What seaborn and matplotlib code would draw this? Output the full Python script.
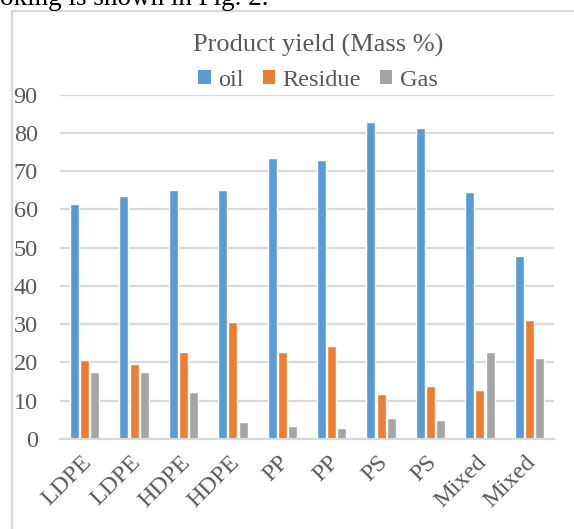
import numpy as np
import pandas as pd
import matplotlib
matplotlib.use("Agg")
import matplotlib.pyplot as plt
import matplotlib.transforms as mtransforms
import seaborn as sns
from matplotlib.patches import Rectangle, Patch

categories = ["LDPE", "LDPE", "HDPE", "HDPE", "PP", "PP", "PS", "PS", "Mixed", "Mixed"]
oil = [61.4, 63.5, 65.1, 65.1, 73.5, 72.9, 82.9, 81.3, 64.5, 47.8]
residue = [20.6, 19.6, 22.7, 30.5, 22.7, 24.3, 11.7, 13.8, 12.8, 31.0]
gas = [17.5, 17.5, 12.2, 4.4, 3.3, 2.8, 5.4, 4.9, 22.7, 21.1]
series_names = ["oil", "Residue", "Gas"]
yticks = [0, 10, 20, 30, 40, 50, 60, 70, 80, 90]

colors = ["#5B9BD5", "#ED7D31", "#A5A5A5"]
txt = "#595959"
grid = "#D9D9D9"

rows = []
for i in range(len(categories)):
    for name, vals in zip(series_names, [oil, residue, gas]):
        rows.append({"pos": i, "series": name, "value": vals[i]})
df = pd.DataFrame(rows)

sns.set_theme(style="white")
plt.rcParams["font.family"] = ["Liberation Serif", "DejaVu Serif"]

W, H = 574, 529
fig = plt.figure(figsize=(W / 100, H / 100), dpi=100)
ax = fig.add_axes([60 / W, 1 - 439 / H, (554 - 60) / W, (439 - 94.7) / H])

sns.barplot(data=df, x="pos", y="value", hue="series", hue_order=series_names,
            palette=colors, width=0.62, gap=0.12, ax=ax, legend=False,
            saturation=1, errorbar=None)

ax.set_ylim(0, 90)
ax.set_xlim(-0.5, len(categories) - 0.5)
ax.set_yticks(yticks)
ax.set_yticklabels([str(t) for t in yticks], fontsize=17.5, color=txt)
ax.set_xticks(range(len(categories)))
ax.set_xticklabels(categories, rotation=45, ha="right", va="top",
                   rotation_mode="anchor", fontsize=17.5, color=txt)
ax.tick_params(axis="y", length=0, pad=16)
ax.tick_params(axis="x", length=0, pad=9)
offset = mtransforms.ScaledTranslation(-4 / 100, 0, fig.dpi_scale_trans)
for lab in ax.get_xticklabels():
    lab.set_transform(lab.get_transform() + offset)
ax.set_xlabel("")
ax.set_ylabel("")
for s in ["top", "right", "left"]:
    ax.spines[s].set_visible(False)
ax.spines["bottom"].set_color(grid)
ax.spines["bottom"].set_linewidth(1.6)
ax.yaxis.grid(True, color=grid, linewidth=1.6)
ax.set_axisbelow(True)

# chart frame
fig.patches.append(Rectangle((11.5 / W, -0.2), 1.2, 1 - 11.5 / H + 0.2,
                             transform=fig.transFigure, fill=False,
                             edgecolor=grid, linewidth=1.6, clip_on=False))

fig.text(318 / W, 1 - 45 / H, "Product yield (Mass %)", ha="center", va="center",
         fontsize=19, color=txt)

handles = [Patch(facecolor=c, edgecolor="none", label=n) for c, n in zip(colors, series_names)]
fig.legend(handles=handles, loc="center", bbox_to_anchor=(318 / W, 1 - 80 / H),
           ncol=3, frameon=False, fontsize=17.5, handlelength=0.5, handleheight=0.5,
           handletextpad=0.3, columnspacing=0.8, labelcolor=txt)

fig.text(0, 1 - 5 / H, "oking is shown in Fig. 2.", ha="left", va="baseline",
         fontsize=19.5, color="black")

fig.savefig("out.png", dpi=100)
